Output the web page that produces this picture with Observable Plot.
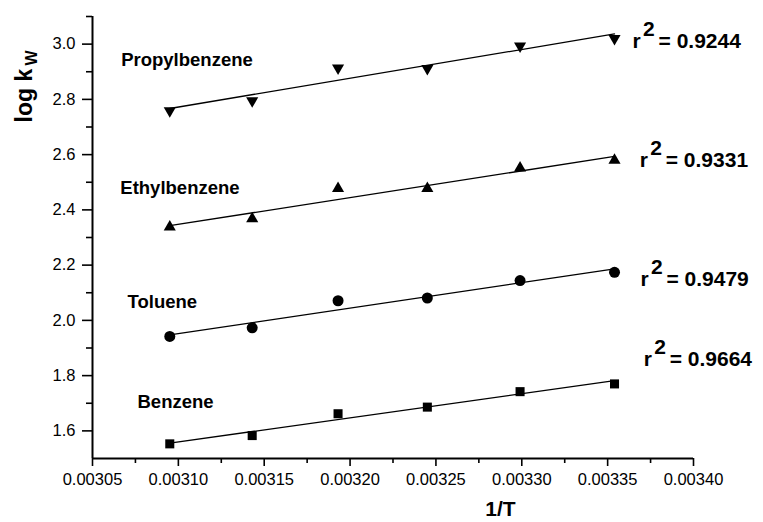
<!DOCTYPE html>
<html><head><meta charset="utf-8">
<script src="https://cdn.jsdelivr.net/npm/d3@7"></script>
<script src="https://cdn.jsdelivr.net/npm/@observablehq/plot@0.6"></script>
<style>
body{margin:0;background:#fff;}
#chart svg{display:block;}
</style></head><body><div id="chart"></div>
<script>
// 1/T values (x) shared by all series
const invT = [0.003095, 0.003143, 0.003193, 0.003245, 0.003299, 0.003354];
const compounds = ["Benzene", "Toluene", "Ethylbenzene", "Propylbenzene"];
const benzene = [1.553, 1.583, 1.662, 1.686, 1.742, 1.770];
const toluene = [1.942, 1.973, 2.071, 2.081, 2.144, 2.174];
const ethylbenzene = [2.338, 2.368, 2.477, 2.477, 2.552, 2.580];
const propylbenzene = [2.759, 2.795, 2.914, 2.912, 2.993, 3.020];
const r2Values = ["0.9664", "0.9479", "0.9331", "0.9244"];

// annotation anchors (data units)
const nameLabelX = [0.0030762, 0.0030704, 0.0030662, 0.0030667];
const nameLabelY = [1.6846, 2.0455, 2.4582, 2.9226];
const r2LabelX = [0.0033710, 0.0033691, 0.0033687, 0.0033645];
const r2LabelY = [1.8366, 2.1260, 2.5545, 2.9860];

// ticks
const xTicks = [0.00305, 0.00310, 0.00315, 0.00320, 0.00325, 0.00330, 0.00335, 0.00340];
const xMinor = [0.003075, 0.003125, 0.003175, 0.003225, 0.003275, 0.003325, 0.003375];
const yTicks = [1.6, 1.8, 2.0, 2.2, 2.4, 2.6, 2.8, 3.0];
const yMinor = [1.7, 1.9, 2.1, 2.3, 2.5, 2.7, 2.9, 3.1];

const seriesValues = [benzene, toluene, ethylbenzene, propylbenzene];
const rows = [];
compounds.forEach((c, k) => seriesValues[k].forEach((v, i) => rows.push({compound: c, x: invT[i], y: v})));
const labels = compounds.map((c, k) => ({name: c, nx: nameLabelX[k], ny: nameLabelY[k], rx: r2LabelX[k], ry: r2LabelY[k], r2: "= " + r2Values[k]}));

const triangleDown = {
  draw(context, size) {
    const y = -Math.sqrt(size / (Math.sqrt(3) * 3));
    context.moveTo(0, -y * 2);
    context.lineTo(Math.sqrt(3) * y, y);
    context.lineTo(-Math.sqrt(3) * y, y);
    context.closePath();
  }
};
const symbols = {Benzene: ["square", 5.1], Toluene: ["circle", 5.5], Ethylbenzene: ["triangle", 4.5], Propylbenzene: [triangleDown, 4.5]};

const chart = Plot.plot({
  width: 763, height: 522,
  marginLeft: 92, marginRight: 70, marginTop: 16, marginBottom: 64,
  style: {fontFamily: "'Liberation Sans', Arial, sans-serif", background: "white", color: "black", overflow: "visible"},
  x: {domain: [0.00305, 0.0034], label: null},
  y: {domain: [1.5, 3.1], label: null},
  marks: [
    Plot.axisX(xTicks, {tickSize: 8, tickPadding: 7, tickFormat: d3.format(".5f"), fontSize: 16.5, strokeWidth: 1.6, label: null}),
    Plot.axisX(xMinor, {tickSize: 5, text: null, strokeWidth: 1.6, label: null}),
    Plot.axisY(yTicks, {tickSize: 10, tickPadding: 7, tickFormat: d3.format(".1f"), fontSize: 16.5, strokeWidth: 1.6, label: null}),
    Plot.axisY(yMinor, {tickSize: 6, text: null, strokeWidth: 1.6, label: null}),
    Plot.ruleX([0.00305], {strokeWidth: 2}),
    Plot.ruleY([1.5], {strokeWidth: 2}),
    Plot.linearRegressionY(rows, {x: "x", y: "y", z: "compound", ci: 0, stroke: "black", strokeWidth: 1.3}),
    ...compounds.map(c => Plot.dot(rows.filter(d => d.compound === c), {x: "x", y: "y", symbol: symbols[c][0], r: symbols[c][1], fill: "black", stroke: "none"})),
    Plot.text(labels, {x: "nx", y: "ny", text: "name", textAnchor: "start", lineAnchor: "bottom", fontSize: 18.5, fontWeight: "bold"}),
    Plot.text(labels, {x: "rx", y: "ry", text: () => "r", textAnchor: "start", lineAnchor: "bottom", fontSize: 21, fontWeight: "bold"}),
    Plot.text(labels, {x: "rx", y: "ry", text: () => "2", dx: 10.5, dy: -12, textAnchor: "start", lineAnchor: "bottom", fontSize: 21, fontWeight: "bold"}),
    Plot.text(labels, {x: "rx", y: "ry", text: "r2", dx: 26, textAnchor: "start", lineAnchor: "bottom", fontSize: 21, fontWeight: "bold"}),
    Plot.text(["log k"], {text: d => d, frameAnchor: "top-left", dx: -61, dy: 106, rotate: -90, textAnchor: "start", lineAnchor: "bottom", fontSize: 23, fontWeight: "bold"}),
    Plot.text(["W"], {text: d => d, frameAnchor: "top-left", dx: -55.5, dy: 49, rotate: -90, textAnchor: "start", lineAnchor: "bottom", fontSize: 16, fontWeight: "bold"}),
    Plot.text(["1/T"], {text: d => d, frameAnchor: "bottom", dx: 107.5, dy: 57, textAnchor: "middle", lineAnchor: "bottom", fontSize: 21, fontWeight: "bold"})
  ]
});
document.getElementById("chart").appendChild(chart);
</script>
</body></html>
